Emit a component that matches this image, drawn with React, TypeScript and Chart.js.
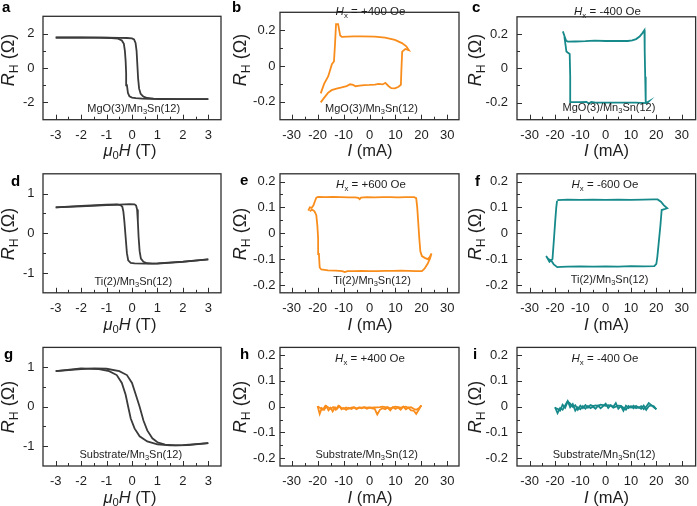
import React, { useEffect, useRef } from "react";
import Chart from "chart.js/auto";

type Pt = [number, number];

const W = 697;
const H = 506;
const FONT = '"Liberation Sans", Arial, Helvetica, sans-serif';
const TEXT_COLOR = "#1e1e1e";
const AXIS_COLOR = "#2e2e2e";
const DARK = "#3b3b3b";
const ORANGE = "#f98d1c";
const TEAL = "#16898a";

// ---- tick values ----
const FIELD_TICKS = [-3, -2, -1, 0, 1, 2, 3];
const FIELD_MINOR = [-2.5, -1.5, -0.5, 0.5, 1.5, 2.5];
const CURRENT_TICKS = [-30, -20, -10, 0, 10, 20, 30];
const CURRENT_MINOR = [-25, -15, -5, 5, 15, 25];
const RH_A_TICKS = [-2, 0, 2];
const RH_A_MINOR = [-1, 1];
const RH_DG_TICKS = [-1, 0, 1];
const RH_DG_MINOR = [-0.5, 0.5];
const RH_BC_TICKS = [-0.2, 0, 0.2];
const RH_BC_MINOR = [-0.1, 0.1];
const RH_SMALL_TICKS = [-0.2, -0.1, 0, 0.1, 0.2];
const RH_SMALL_MINOR = [-0.15, -0.05, 0.05, 0.15];

// ---- text ----
const PANEL_LETTERS = ["a", "b", "c", "d", "e", "f", "g", "h", "i"];
const HX_VALUES = ["+400", "-400", "+600", "-600", "+400", "-400"];
const SAMPLE_PREFIX = ["MgO(3)", "Ti(2)", "Substrate"];

// ---- panel a: field sweeps ----
const A_UP: Pt[] = [
  [-3, 1.76], [-2.5, 1.76], [-2, 1.76], [-1.5, 1.76], [-1, 1.755], [-0.5, 1.75], [-0.2, 1.74],
  [0, 1.72], [0.08, 1.66], [0.14, 1.45], [0.18, 1.0], [0.21, 0.2], [0.24, -0.6], [0.28, -1.2],
  [0.34, -1.5], [0.45, -1.66], [0.6, -1.74], [0.85, -1.78], [1.2, -1.8], [2, -1.81], [3, -1.81],
];
const A_DOWN: Pt[] = [
  [3, -1.81], [2, -1.81], [1.2, -1.8], [0.7, -1.79], [0.4, -1.78], [0.15, -1.75], [0, -1.72],
  [-0.1, -1.64], [-0.16, -1.45], [-0.2, -1.0], [-0.23, -0.3], [-0.25, 0.4], [-0.28, 1.0],
  [-0.32, 1.4], [-0.4, 1.6], [-0.55, 1.7], [-0.8, 1.74], [-1.2, 1.76], [-2, 1.77], [-3, 1.77],
];

// ---- panel d ----
const D_UP: Pt[] = [
  [-3, 0.655], [-2, 0.68], [-1, 0.71], [-0.5, 0.725], [-0.1, 0.735], [0.1, 0.73], [0.16, 0.7],
  [0.2, 0.6], [0.23, 0.3], [0.26, -0.1], [0.3, -0.45], [0.35, -0.64], [0.45, -0.72], [0.6, -0.755],
  [0.8, -0.765], [1, -0.765], [2, -0.72], [3, -0.655],
];
const D_DOWN: Pt[] = [
  [3, -0.655], [2, -0.715], [1, -0.76], [0.5, -0.765], [0.1, -0.76], [-0.05, -0.745], [-0.15, -0.68],
  [-0.2, -0.5], [-0.25, -0.1], [-0.3, 0.3], [-0.34, 0.55], [-0.38, 0.67], [-0.45, 0.71], [-0.6, 0.73],
  [-1, 0.72], [-2, 0.69], [-3, 0.655],
];

// ---- panel g ----
const G_UP: Pt[] = [
  [-3, 0.9], [-2, 0.95], [-1.5, 0.97], [-1, 0.96], [-0.5, 0.9], [-0.2, 0.8], [0, 0.6], [0.15, 0.3],
  [0.3, 0], [0.45, -0.35], [0.6, -0.6], [0.8, -0.8], [1, -0.9], [1.3, -0.96], [1.7, -0.98],
  [2.2, -0.97], [3, -0.92],
];
const G_DOWN: Pt[] = [
  [3, -0.92], [2, -0.97], [1.5, -0.98], [1, -0.95], [0.6, -0.88], [0.3, -0.75], [0.1, -0.55],
  [-0.05, -0.3], [-0.15, 0], [-0.25, 0.3], [-0.4, 0.6], [-0.6, 0.8], [-0.9, 0.9], [-1.3, 0.95],
  [-2, 0.97], [-3, 0.9],
];

// ---- panel b: current loop, MgO, +400 Oe ----
const B_LOOP: Pt[] = [
  [-18.8, -0.153], [-17.5, -0.1], [-15.9, -0.057], [-14.5, 0.01], [-13.7, 0.025], [-13.3, 0.12],
  [-12.9, 0.234], [-12.1, 0.234], [-11.3, 0.17], [-10.7, 0.163], [-6, 0.165], [-3, 0.166],
  [2, 0.164], [6, 0.158], [9.8, 0.146], [12.5, 0.128], [14.2, 0.11], [15.2, 0.088], [13.8, 0.095],
  [12.6, 0.08], [12.3, -0.02], [12.1, -0.105], [11.2, -0.116], [9.8, -0.125], [8.4, -0.124],
  [7.4, -0.113], [6.1, -0.094], [5.1, -0.103], [3.5, -0.1], [2.1, -0.104], [0, -0.106],
  [-2, -0.107], [-3.8, -0.11], [-5.4, -0.113], [-6.3, -0.106], [-7.5, -0.102], [-8.8, -0.112],
  [-10.7, -0.12], [-12.7, -0.127], [-14.6, -0.135], [-16, -0.15], [-17.5, -0.178], [-18.8, -0.203],
];

// ---- panel c: current loop, MgO, -400 Oe ----
const C_LOOP: Pt[] = [
  [-16.9, 0.215], [-16.2, 0.185], [-15.6, 0.16], [-14.9, 0.155], [-12, 0.156], [-8, 0.158],
  [-4.4, 0.161], [0, 0.159], [4, 0.16], [8.7, 0.159], [10.5, 0.162], [12, 0.17], [13.4, 0.185],
  [14.5, 0.205], [15.3, 0.222], [15.4, 0.1], [15.6, -0.05], [15.8, -0.196], [16.6, -0.2],
  [17.0, -0.194], [16.0, -0.203], [12, -0.201], [8, -0.2], [4, -0.201], [0, -0.2], [-4, -0.201],
  [-5.7, -0.197], [-6.6, -0.206], [-7.6, -0.196], [-10, -0.198], [-13.8, -0.198], [-14.0, -0.05],
  [-14.2, 0.083], [-15.0, 0.092], [-15.5, 0.098], [-15.8, 0.13], [-16.3, 0.185],
];

// ---- panel e: current loop, Ti, +600 Oe ----
const E_LOOP: Pt[] = [
  [-23.6, 0.088], [-23.0, 0.1], [-22.3, 0.098], [-21.6, 0.108], [-21.0, 0.125], [-20.5, 0.138],
  [-19.8, 0.141], [-17, 0.14], [-14, 0.141], [-11, 0.14], [-8, 0.139], [-5.5, 0.139], [-4.3, 0.137],
  [-3.8, 0.132], [-3.3, 0.138], [-1, 0.14], [2, 0.139], [5, 0.14], [8, 0.14], [11, 0.139], [14, 0.14],
  [17.2, 0.14], [18.0, 0.136], [18.4, 0.1], [18.8, 0.04], [19.2, -0.02], [19.6, -0.07], [20.2, -0.088],
  [21.3, -0.095], [22.4, -0.1], [23.2, -0.092], [23.9, -0.078], [23.3, -0.098], [22.4, -0.118],
  [21.2, -0.137], [20.2, -0.146], [18, -0.146], [15, -0.145], [12, -0.144], [9, -0.145], [6, -0.145],
  [3, -0.146], [0, -0.146], [-3, -0.145], [-6, -0.146], [-8.5, -0.146], [-9.5, -0.15], [-10.5, -0.146],
  [-13, -0.144], [-16, -0.143], [-18.6, -0.14], [-19.2, -0.132], [-19.5, -0.08], [-19.8, -0.02],
  [-20.1, 0.03], [-20.5, 0.07], [-21.2, 0.085], [-22.2, 0.092], [-23.0, 0.085],
];

// ---- panel f: current loop, Ti, -600 Oe ----
const F_LOOP: Pt[] = [
  [-19.1, 0.128], [-15, 0.13], [-10, 0.129], [-5, 0.13], [0, 0.129], [5, 0.13], [10, 0.129],
  [15, 0.13], [19, 0.131], [20.5, 0.131], [21.8, 0.122], [23, 0.108], [24.3, 0.097], [23.2, 0.093],
  [22.1, 0.09], [21.6, 0.03], [21, -0.03], [20.4, -0.09], [20, -0.118], [19.2, -0.127], [15, -0.128],
  [10, -0.127], [5, -0.129], [0, -0.128], [-5, -0.129], [-10, -0.128], [-15, -0.129], [-17.7, -0.13],
  [-19.1, -0.131], [-20.5, -0.12], [-21.5, -0.105], [-22.6, -0.1], [-23.5, -0.088], [-22.8, -0.1],
  [-22.2, -0.11], [-21, -0.1], [-20.4, -0.02], [-19.9, 0.05], [-19.5, 0.1], [-19.2, 0.125],
];

// ---- panel h: substrate, +400 Oe ----
const H_FWD: Pt[] = [
  [-20, 0.003], [-19.2, -0.028], [-18.4, -0.006], [-17.5, -0.012], [-16.6, 0.001], [-15.8, -0.014],
  [-15, -0.004], [-14.2, -0.018], [-13.3, -0.002], [-12.5, -0.008], [-11.6, 0.002], [-10.8, -0.01],
  [-10, -0.005], [-9, -0.012], [-8, -0.004], [-7, -0.009], [-6, -0.003], [-5, -0.01], [-4, -0.004],
  [-3, -0.006], [-2, -0.003], [-1, -0.008], [0, -0.004], [1, -0.006], [2, -0.008], [3, -0.03],
  [4, -0.012], [5, -0.006], [6, -0.01], [7, -0.004], [8, -0.014], [9, -0.002], [10, -0.009],
  [11, -0.003], [12, -0.012], [13, 0.0], [14, -0.01], [15, -0.004], [16, -0.014], [17, -0.015],
  [18, -0.028], [19, -0.012], [20, 0.005],
];
const H_BWD: Pt[] = [
  [20, 0.005], [19, -0.006], [18, -0.012], [17, -0.008], [16, -0.002], [15, -0.004], [14, 0.0],
  [13, -0.002], [12, -0.004], [11, -0.002], [10, 0.0], [9, -0.003], [8, -0.006], [7, -0.002],
  [6, -0.002], [5, 0.0], [4, -0.002], [3, -0.003], [2, -0.003], [1, -0.004], [0, -0.003],
  [-1, -0.004], [-2, -0.002], [-3, -0.004], [-4, -0.003], [-5, -0.006], [-6, -0.002], [-7, -0.004],
  [-8, -0.008], [-9, -0.003], [-10, -0.008], [-11, -0.003], [-12, 0.004], [-13, -0.012], [-14, -0.002],
  [-15, -0.008], [-16, -0.002], [-17, 0.004], [-18, -0.012], [-19, -0.005], [-20, 0.001],
];

// ---- panel i: substrate, -400 Oe ----
const I_FWD: Pt[] = [
  [-20, -0.002], [-19, -0.025], [-18, -0.005], [-17, -0.012], [-16, 0.005], [-15, 0.022], [-14, -0.002],
  [-13, 0.01], [-12, -0.015], [-11, -0.002], [-10, -0.01], [-9, 0.002], [-8, -0.008], [-7, 0.003],
  [-6, -0.006], [-5, 0.0], [-4, -0.008], [-3, 0.004], [-2, -0.006], [-1, 0.002], [0, 0.012],
  [1, -0.005], [2, 0.006], [3, 0.0], [4, 0.014], [5, -0.008], [6, 0.002], [7, -0.016], [8, 0.004],
  [9, -0.005], [10, 0.002], [11, -0.006], [12, 0.003], [13, -0.004], [14, 0.002], [15, -0.01],
  [16, 0.0], [17, 0.014], [18, 0.006], [19, -0.002], [20, -0.01],
];
const I_BWD: Pt[] = [
  [20, -0.01], [19, 0.002], [18, 0.005], [17, 0.002], [16, -0.012], [15, 0.004], [14, -0.008],
  [13, -0.002], [12, -0.006], [11, 0.004], [10, -0.004], [9, 0.003], [8, -0.012], [7, -0.004],
  [6, 0.003], [5, 0.004], [4, 0.0], [3, -0.004], [2, 0.004], [1, 0.006], [0, 0.003], [-1, 0.006],
  [-2, 0.008], [-3, 0.003], [-4, 0.005], [-5, 0.002], [-6, 0.006], [-7, -0.004], [-8, 0.006],
  [-9, -0.006], [-10, 0.004], [-11, -0.012], [-12, 0.006], [-13, 0.0], [-14, 0.012], [-15, 0.02],
  [-16, -0.004], [-17, 0.008], [-18, -0.015], [-19, -0.008], [-20, -0.005],
];

// ---- layout ----
const COLS = [
  { L: 43, R: 221, min: -3.5, max: 3.5, yPad: 8.5, major: FIELD_TICKS, minor: FIELD_MINOR },
  { L: 280, R: 459, min: -34.5, max: 34.5, yPad: 4.5, major: CURRENT_TICKS, minor: CURRENT_MINOR },
  { L: 517, R: 696, min: -35, max: 35.5, yPad: 9, major: CURRENT_TICKS, minor: CURRENT_MINOR },
];
const ROWS = [
  { T: 1.7, B: 119.7 },
  { T: 173.8, B: 292.8 },
  { T: 347.4, B: 466 },
];
const YW = 40;
const XH = 30;

interface Series { points: Pt[]; color: string }
interface PanelSpec {
  col: number; row: number;
  yMin: number; yMax: number;
  yMajor: number[]; yMinor: number[];
  series: Series[];
}

const PANELS: PanelSpec[] = [
  { col: 0, row: 0, yMin: -3, yMax: 3, yMajor: RH_A_TICKS, yMinor: RH_A_MINOR, series: [{ points: A_UP, color: DARK }, { points: A_DOWN, color: DARK }] },
  { col: 1, row: 0, yMin: -0.3, yMax: 0.3, yMajor: RH_BC_TICKS, yMinor: RH_BC_MINOR, series: [{ points: B_LOOP, color: ORANGE }] },
  { col: 2, row: 0, yMin: -0.3, yMax: 0.3, yMajor: RH_BC_TICKS, yMinor: RH_BC_MINOR, series: [{ points: C_LOOP, color: TEAL }] },
  { col: 0, row: 1, yMin: -1.5, yMax: 1.5, yMajor: RH_DG_TICKS, yMinor: RH_DG_MINOR, series: [{ points: D_UP, color: DARK }, { points: D_DOWN, color: DARK }] },
  { col: 1, row: 1, yMin: -0.23, yMax: 0.23, yMajor: RH_SMALL_TICKS, yMinor: RH_SMALL_MINOR, series: [{ points: E_LOOP, color: ORANGE }] },
  { col: 2, row: 1, yMin: -0.23, yMax: 0.23, yMajor: RH_SMALL_TICKS, yMinor: RH_SMALL_MINOR, series: [{ points: F_LOOP, color: TEAL }] },
  { col: 0, row: 2, yMin: -1.5, yMax: 1.5, yMajor: RH_DG_TICKS, yMinor: RH_DG_MINOR, series: [{ points: G_UP, color: DARK }, { points: G_DOWN, color: DARK }] },
  { col: 1, row: 2, yMin: -0.23, yMax: 0.23, yMajor: RH_SMALL_TICKS, yMinor: RH_SMALL_MINOR, series: [{ points: H_FWD, color: ORANGE }, { points: H_BWD, color: ORANGE }] },
  { col: 2, row: 2, yMin: -0.23, yMax: 0.23, yMajor: RH_SMALL_TICKS, yMinor: RH_SMALL_MINOR, series: [{ points: I_FWD, color: TEAL }, { points: I_BWD, color: TEAL }] },
];

function makeChart(canvas: HTMLCanvasElement, p: PanelSpec, idx: number) {
  const c = COLS[p.col];
  const r = ROWS[p.row];
  const frame = {
    id: "frame" + idx,
    afterDatasetsDraw(chart: any) {
      const { ctx, chartArea: a } = chart;
      const xs = chart.scales.x;
      const ys = chart.scales.y;
      ctx.save();
      ctx.strokeStyle = AXIS_COLOR;
      ctx.lineWidth = 1;
      ctx.beginPath();
      const tx = (v: number, len: number) => {
        const px = Math.round(xs.getPixelForValue(v)) + 0.5;
        ctx.moveTo(px, a.bottom);
        ctx.lineTo(px, a.bottom - len);
      };
      const ty = (v: number, len: number) => {
        const py = Math.round(ys.getPixelForValue(v)) + 0.5;
        ctx.moveTo(a.left, py);
        ctx.lineTo(a.left + len, py);
      };
      c.major.forEach((v) => tx(v, 5));
      c.minor.forEach((v) => tx(v, 3));
      p.yMajor.forEach((v) => ty(v, 5));
      p.yMinor.forEach((v) => ty(v, 3));
      ctx.stroke();
      ctx.lineWidth = 1.3;
      ctx.strokeRect(a.left, a.top, a.right - a.left, a.bottom - a.top);
      ctx.restore();
    },
  };
  const tickFont = { family: FONT, size: 13 };
  return new Chart(canvas, {
    type: "scatter",
    data: {
      datasets: p.series.map((s) => ({
        data: s.points.map(([x, y]) => ({ x, y })),
        showLine: true,
        borderColor: s.color,
        backgroundColor: s.color,
        borderWidth: 1.8,
        pointRadius: 0,
        pointHoverRadius: 0,
        tension: 0,
        fill: false,
      })),
    },
    options: {
      responsive: false,
      animation: false,
      devicePixelRatio: 1,
      events: [],
      layout: {
        padding: {
          left: c.L - YW,
          top: r.T,
          right: W - c.R,
          bottom: H - r.B - XH,
        },
      },
      plugins: { legend: { display: false }, tooltip: { enabled: false } },
      scales: {
        x: {
          type: "linear",
          min: c.min,
          max: c.max,
          grid: { display: false, drawTicks: false },
          border: { display: false },
          ticks: {
            font: tickFont,
            color: TEXT_COLOR,
            padding: 8,
            autoSkip: false,
            maxRotation: 0,
            callback: (v: any) => String(v),
          },
          afterBuildTicks: (s: any) => {
            s.ticks = c.major.map((v) => ({ value: v }));
          },
          afterFit: (s: any) => {
            s.height = XH;
          },
        },
        y: {
          type: "linear",
          min: p.yMin,
          max: p.yMax,
          grid: { display: false, drawTicks: false },
          border: { display: false },
          ticks: {
            font: tickFont,
            color: TEXT_COLOR,
            padding: c.yPad,
            autoSkip: false,
            callback: (v: any) => String(v),
          },
          afterBuildTicks: (s: any) => {
            s.ticks = p.yMajor.map((v) => ({ value: v }));
          },
          afterFit: (s: any) => {
            s.width = YW;
          },
        },
      },
    },
    plugins: [frame],
  } as any);
}

const subStyle: React.CSSProperties = { fontSize: "0.68em", verticalAlign: "-0.3em", lineHeight: 0 };

const baseText: React.CSSProperties = {
  position: "absolute",
  fontFamily: FONT,
  color: TEXT_COLOR,
  whiteSpace: "nowrap",
  lineHeight: 1,
  zIndex: 2,
};

function Centered({ x, y, size, rotate, children }: { x: number; y: number; size: number; rotate?: boolean; children: React.ReactNode }) {
  return (
    <div
      style={{
        ...baseText,
        left: x,
        top: y,
        fontSize: size,
        transform: rotate ? "translate(-50%, -50%) rotate(-90deg)" : "translate(-50%, -50%)",
      }}
    >
      {children}
    </div>
  );
}

const LETTER_POS = [
  [2, 11.7], [232, 11.7], [472, 11.7],
  [11, 185.3], [240, 185], [475, 185.5],
  [4, 359], [240, 358.3], [473, 358.3],
];
const YTITLE_X = [8, 239.5, 474.5];
const YTITLE_Y = [60, 234, 406.5];
const XTITLE_X = [130, 370, 606.5];
const XTITLE_Y = [150, 323.5, 496.7];
const HX_POS = [[370.5, 11.5], [607.5, 12], [371, 185], [605, 185], [370, 359], [605, 359]];
const SAMPLE_POS = [
  [133.7, 108], [371.5, 107.5], [609, 107],
  [133.3, 281], [372, 280], [609.5, 279.3],
  [130.8, 453.5], [366.7, 453.5], [604, 453.5],
];

export default function App() {
  const refs = useRef<(HTMLCanvasElement | null)[]>([]);
  useEffect(() => {
    const charts = PANELS.map((p, i) => makeChart(refs.current[i] as HTMLCanvasElement, p, i));
    return () => charts.forEach((ch) => ch.destroy());
  }, []);

  const overlays: React.ReactNode[] = [];
  PANEL_LETTERS.forEach((l, i) => {
    overlays.push(
      <div key={"l" + i} style={{ ...baseText, left: LETTER_POS[i][0], top: LETTER_POS[i][1] - 12.7, fontSize: 15, fontWeight: "bold", color: "#000" }}>
        {l}
      </div>
    );
  });
  for (let row = 0; row < 3; row++) {
    for (let col = 0; col < 3; col++) {
      overlays.push(
        <Centered key={`yt${row}${col}`} x={YTITLE_X[col]} y={YTITLE_Y[row]} size={18}>
          <span style={{ display: "inline-block", transform: "rotate(-90deg)" }}>
            <i>R</i>
            <sub style={subStyle}>H</sub> (Ω)
          </span>
        </Centered>
      );
      overlays.push(
        <Centered key={`xt${row}${col}`} x={XTITLE_X[col]} y={XTITLE_Y[row]} size={16.5}>
          {col === 0 ? (
            <>
              <i>μ</i>
              <sub style={subStyle}>0</sub>
              <i>H</i> (T)
            </>
          ) : (
            <>
              <i>I</i> (mA)
            </>
          )}
        </Centered>
      );
      const idx = row * 3 + col;
      overlays.push(
        <Centered key={`s${idx}`} x={SAMPLE_POS[idx][0]} y={SAMPLE_POS[idx][1]} size={11}>
          {SAMPLE_PREFIX[row]}/Mn<sub style={subStyle}>3</sub>Sn(12)
        </Centered>
      );
    }
  }
  HX_VALUES.forEach((v, i) => {
    overlays.push(
      <Centered key={"hx" + i} x={HX_POS[i][0]} y={HX_POS[i][1]} size={11.5}>
        <i>H</i>
        <sub style={subStyle}>x</sub> = {v} Oe
      </Centered>
    );
  });

  return (
    <div style={{ position: "absolute", left: 0, top: 0, width: W, height: H, overflow: "hidden", background: "#fff" }}>
      {PANELS.map((_, i) => (
        <canvas
          key={i}
          ref={(el) => {
            refs.current[i] = el;
          }}
          width={W}
          height={H}
          style={{ position: "absolute", left: 0, top: 0, width: W, height: H }}
        />
      ))}
      {overlays}
    </div>
  );
}
